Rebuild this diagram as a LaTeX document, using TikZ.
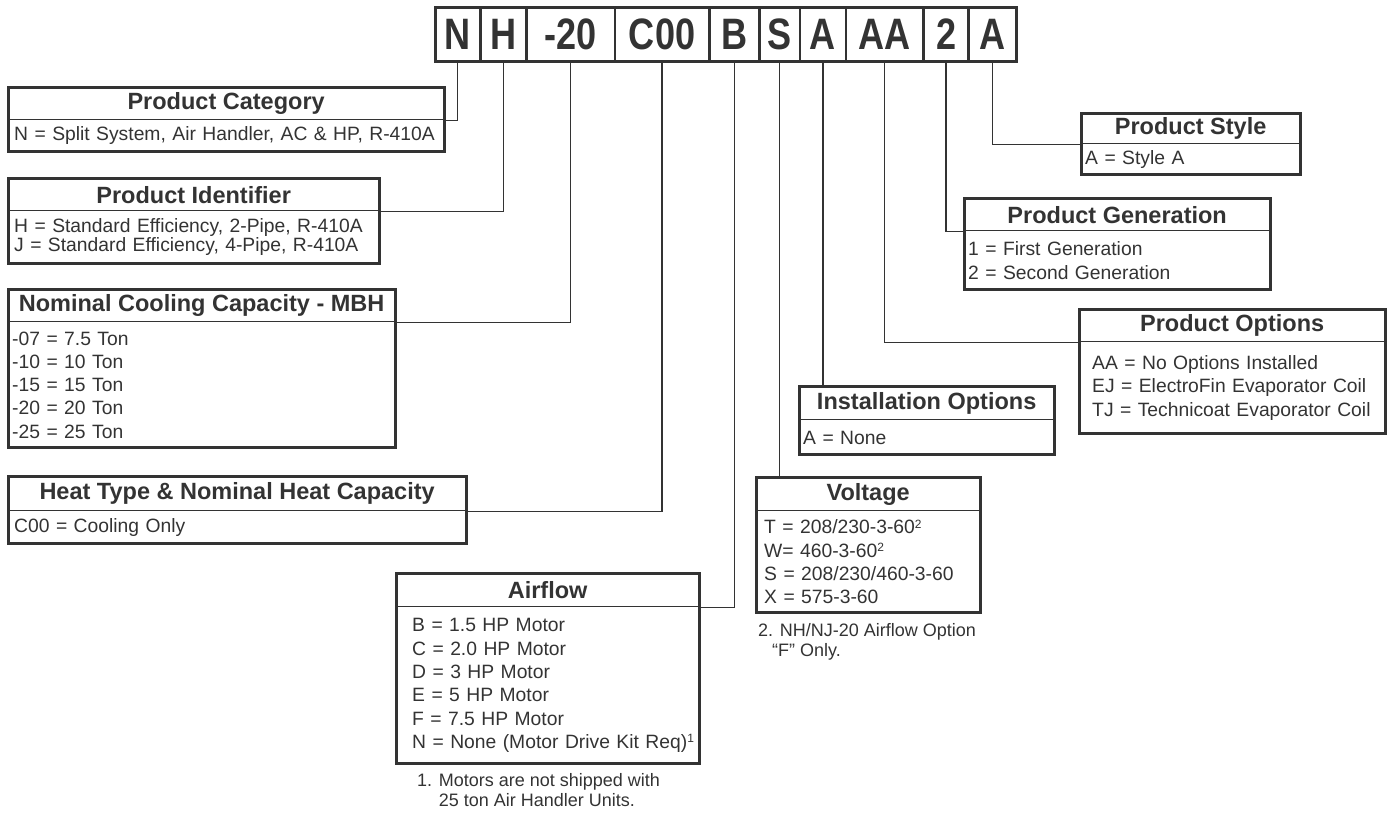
\documentclass[tikz,border=0pt]{standalone}
\usepackage{fontspec}
\setmainfont{Liberation Sans}
\usepackage{graphicx}
\usetikzlibrary{positioning}

\definecolor{ink}{HTML}{333333}
\newcommand\codechar[1]{\scalebox{0.82}[1]{#1}}
\newcommand\fnmark[1]{\raisebox{0.55ex}{\fontsize{12}{12}\selectfont #1}}

\tikzset{
    codecell/.style={draw=ink, line width=1.3pt, minimum height=53pt, inner sep=0pt, anchor=north west,
        text=ink, font=\fontsize{44}{44}\selectfont\bfseries},
    keyhead/.style={draw=ink, line width=1.3pt, minimum height=32pt, inner sep=0pt, anchor=north west,
        text=ink, font=\fontsize{23.5}{28}\selectfont\bfseries},
    keybody/.style={inner sep=0pt, anchor=north west, align=left,
        text=ink, font=\fontsize{19.3}{23.3}\selectfont},
    keyframe/.style={draw=ink, line width=3pt},
    leader/.style={draw=ink, line width=1.3pt},
    note/.style={inner sep=0pt, align=left, text=ink, font=\fontsize{18}{20}\selectfont}
}

\begin{document}
\begin{tikzpicture}[x=1pt, y=-1pt]
    \useasboundingbox (0,0) rectangle (1388,812);
    % model number
    \node[codecell, minimum width=44pt] (cN) at (435,7) {\codechar{N}};
    \node[codecell, minimum width=45pt] (cH) at (cN.north east) {\codechar{H}};
    \node[codecell, minimum width=87pt] (cCap) at (cH.north east) {\codechar{-20}};
    \node[codecell, minimum width=93pt] (cHeat) at (cCap.north east) {\codechar{C00}};
    \node[codecell, minimum width=49pt] (cAir) at (cHeat.north east) {\codechar{B}};
    \node[codecell, minimum width=39pt] (cVolt) at (cAir.north east) {\codechar{S}};
    \node[codecell, minimum width=45pt] (cInst) at (cVolt.north east) {\codechar{A}};
    \node[codecell, minimum width=76pt] (cOpt) at (cInst.north east) {\codechar{AA}};
    \node[codecell, minimum width=44pt] (cGen) at (cOpt.north east) {\codechar{2}};
    \node[codecell, minimum width=46pt] (cSty) at (cGen.north east) {\codechar{A}};
    \draw[keyframe] (cN.north west) rectangle (cSty.south east);
    %
    \node[keyhead, minimum width=435pt] (catH) at (8,87) {Product Category};
    \node[keybody, text width=428pt, minimum height=31pt, xshift=6pt] (catB) at (catH.south west)
        {N = Split System, Air Handler, AC \& HP, R-410A};
    \draw[keyframe] (catH.north west) rectangle (catH.east |- catB.south);
    %
    \node[keyhead, minimum width=370pt] (idH) at (8,178) {Product Identifier};
    \node[keybody, text width=363pt, minimum height=52pt, xshift=6pt,
        font=\fontsize{19.3}{19}\selectfont] (idB) at (idH.south west)
        {H = Standard Efficiency, 2-Pipe, R-410A\\J = Standard Efficiency, 4-Pipe, R-410A};
    \draw[keyframe] (idH.north west) rectangle (idH.east |- idB.south);
    %
    \node[keyhead, minimum width=386pt] (capH) at (8,289) {Nominal Cooling Capacity - MBH};
    \node[keybody, text width=381pt, minimum height=125pt, xshift=4pt] (capB) at (capH.south west)
        {-07 = 7.5 Ton\\-10 = 10 Ton\\-15 = 15 Ton\\-20 = 20 Ton\\-25 = 25 Ton};
    \draw[keyframe] (capH.north west) rectangle (capH.east |- capB.south);
    %
    \node[keyhead, minimum width=457pt, minimum height=34pt] (heatH) at (8,476) {Heat Type \& Nominal Heat Capacity};
    \node[keybody, text width=450pt, minimum height=32pt, xshift=6pt] (heatB) at (heatH.south west)
        {C00 = Cooling Only};
    \draw[keyframe] (heatH.north west) rectangle (heatH.east |- heatB.south);
    %
    \node[keyhead, minimum width=302pt, minimum height=33pt] (airH) at (396,573) {Airflow};
    \node[keybody, text width=285pt, minimum height=156pt, xshift=16pt] (airB) at (airH.south west)
        {B = 1.5 HP Motor\\C = 2.0 HP Motor\\D = 3 HP Motor\\E = 5 HP Motor\\F = 7.5 HP Motor\\
         N = None (Motor Drive Kit Req)\fnmark{1}};
    \draw[keyframe] (airH.north west) rectangle (airH.east |- airB.south);
    \node[note, below right=10pt and 5pt of airB.south west, anchor=north west] (airN)
        {1. Motors are not shipped with\\\phantom{1. }25 ton Air Handler Units.};
    %
    \node[keyhead, minimum width=223pt, minimum height=33pt] (voltH) at (756,477) {Voltage};
    \node[keybody, text width=214pt, minimum height=101pt, xshift=8pt] (voltB) at (voltH.south west)
        {T = 208/230-3-60\fnmark{2}\\W= 460-3-60\fnmark{2}\\S = 208/230/460-3-60\\X = 575-3-60};
    \draw[keyframe] (voltH.north west) rectangle (voltH.east |- voltB.south);
    \node[note, below right=11pt and -6pt of voltB.south west, anchor=north west] (voltN)
        {2. NH/NJ-20 Airflow Option\\\hspace*{14pt}“F” Only.};
    %
    \node[keyhead, minimum width=254pt, minimum height=33pt] (instH) at (799,386) {Installation Options};
    \node[keybody, text width=249pt, minimum height=34pt, xshift=4pt] (instB) at (instH.south west)
        {A = None};
    \draw[keyframe] (instH.north west) rectangle (instH.east |- instB.south);
    %
    \node[keyhead, minimum width=305pt] (optH) at (1079,309) {Product Options};
    \node[keybody, text width=291pt, minimum height=91pt, xshift=13pt] (optB) at (optH.south west)
        {AA = No Options Installed\\EJ = ElectroFin Evaporator Coil\\TJ = Technicoat Evaporator Coil};
    \draw[keyframe] (optH.north west) rectangle (optH.east |- optB.south);
    %
    \node[keyhead, minimum width=305pt] (genH) at (964,198) {Product Generation};
    \node[keybody, text width=300pt, minimum height=58pt, xshift=4pt,
        font=\fontsize{19.3}{24}\selectfont] (genB) at (genH.south west)
        {1 = First Generation\\2 = Second Generation};
    \draw[keyframe] (genH.north west) rectangle (genH.east |- genB.south);
    %
    \node[keyhead, minimum width=218pt, minimum height=30pt] (styH) at (1081,113) {Product Style};
    \node[keybody, text width=213pt, minimum height=30pt, xshift=4pt] (styB) at (styH.south west)
        {A = Style A};
    \draw[keyframe] (styH.north west) rectangle (styH.east |- styB.south);
    % leaders
    \draw[leader] (cN.south) |- (catH.south east);
    \draw[leader] (cH.south) |- (idH.south east);
    \draw[leader] (cCap.south) |- (capH.south east);
    \draw[leader] (cHeat.south) |- (heatH.south east);
    \draw[leader] (cAir.south) |- (airH.south east);
    \draw[leader] (cVolt.south) -- (cVolt.south |- voltH.north);
    \draw[leader] (cInst.south) -- (cInst.south |- instH.north);
    \draw[leader] (cOpt.south) |- (optH.south west);
    \draw[leader] (cGen.south) |- (genH.south west);
    \draw[leader] (cSty.south) |- (styH.south west);
\end{tikzpicture}
\end{document}
